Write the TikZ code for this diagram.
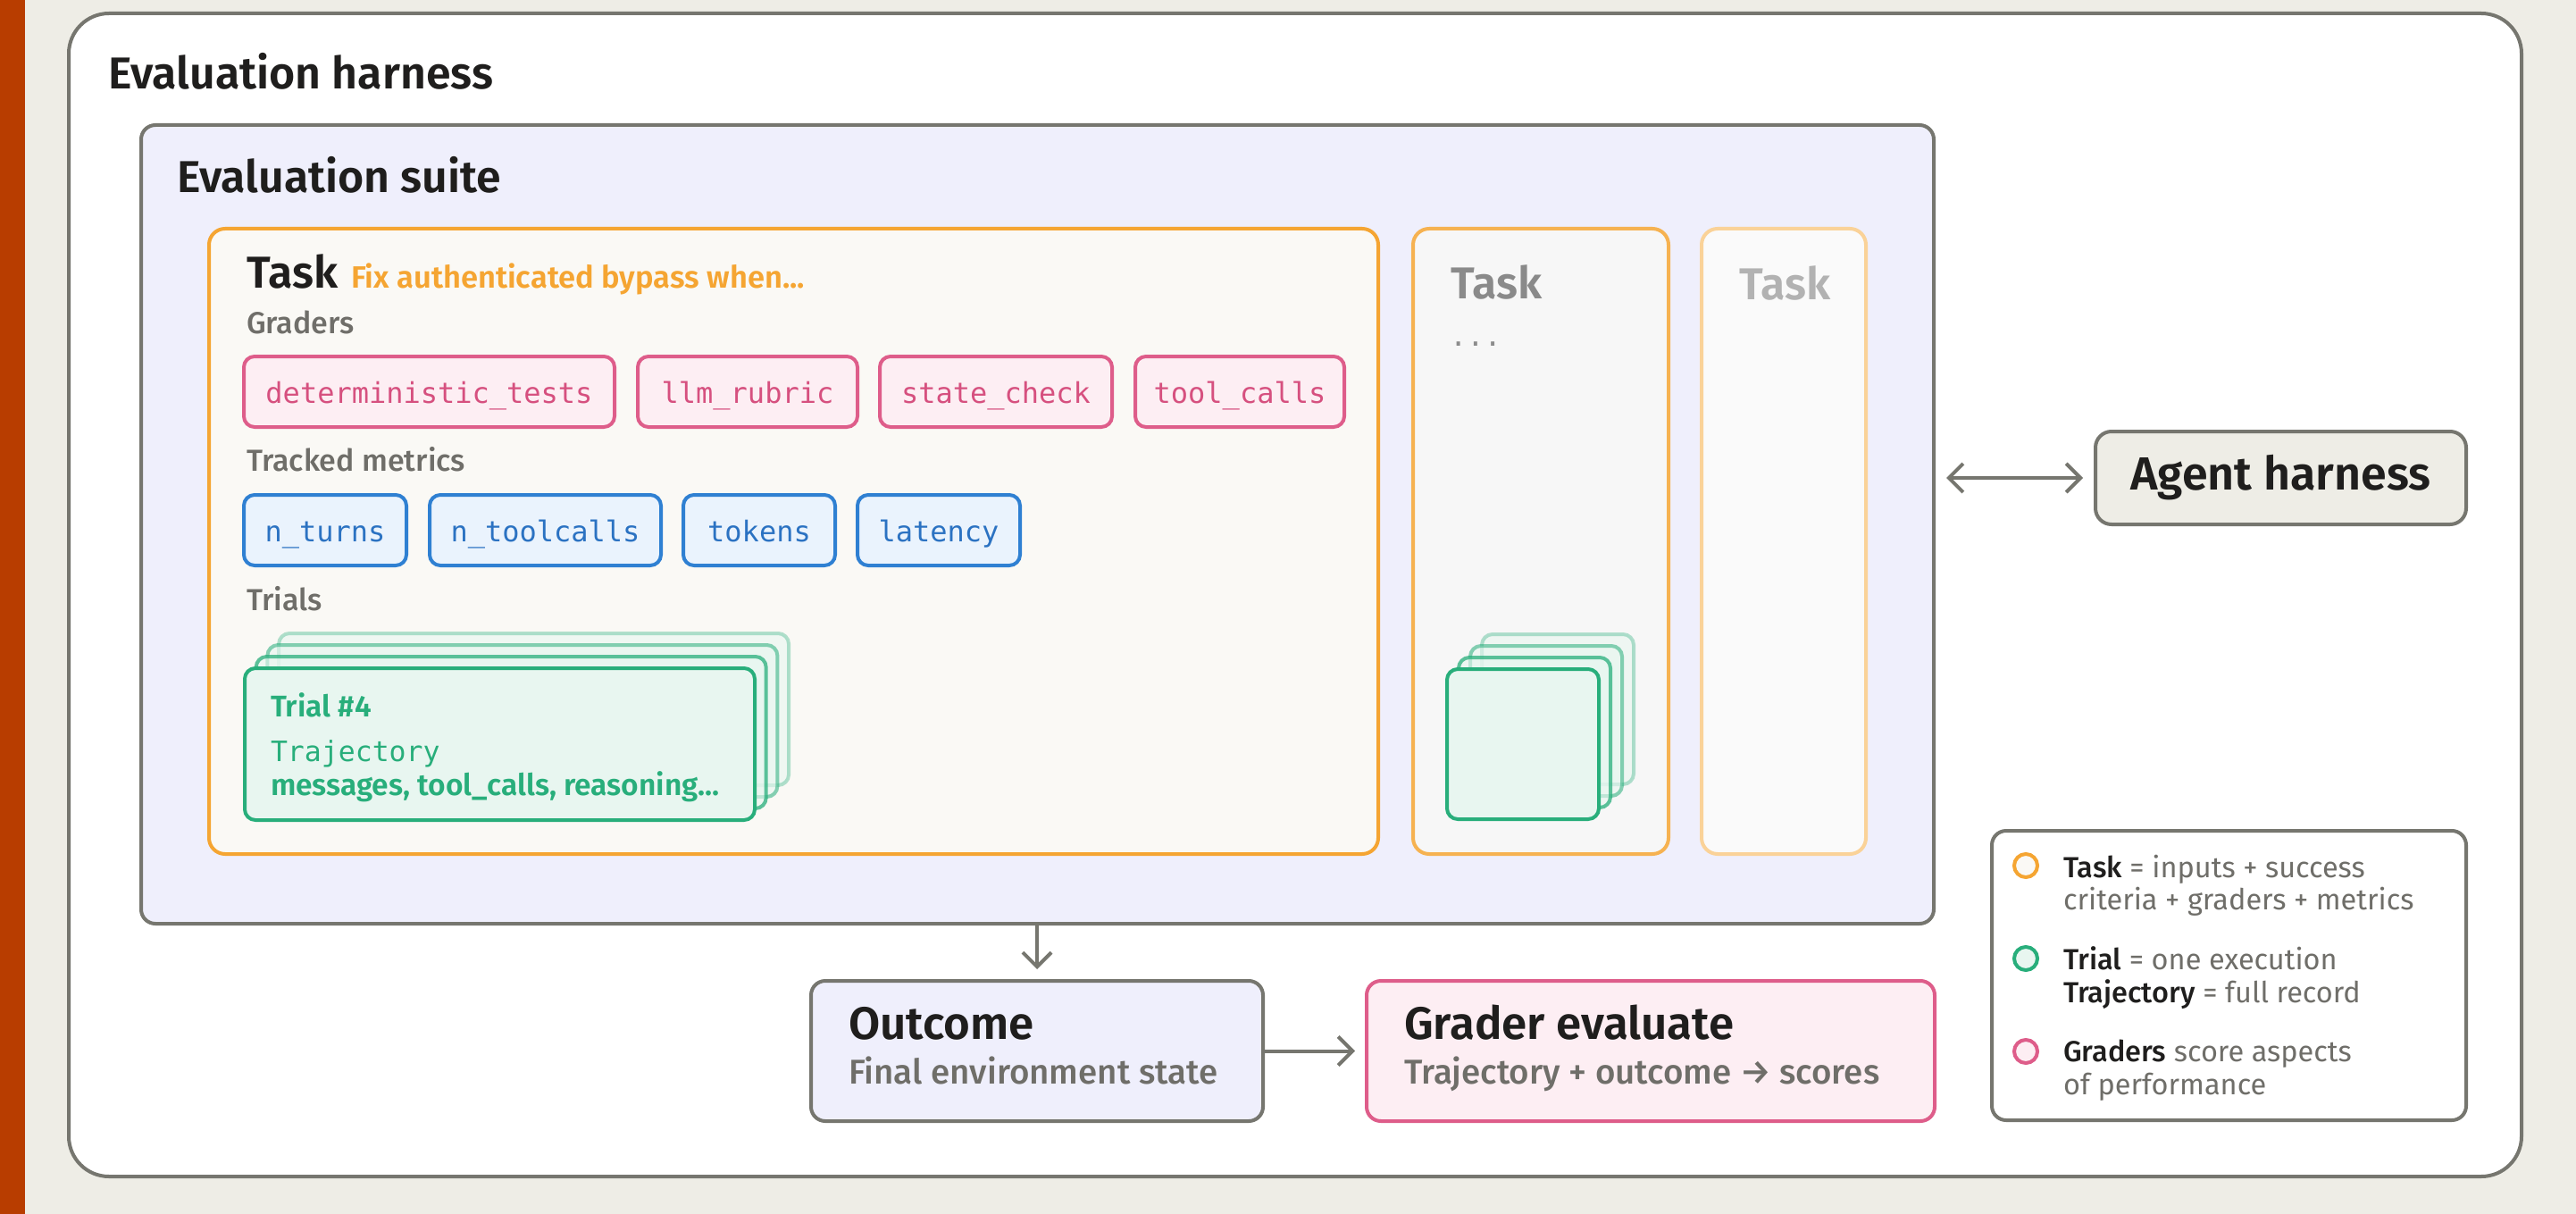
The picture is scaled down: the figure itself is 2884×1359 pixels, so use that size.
\documentclass[tikz,border=0pt]{standalone}
\usepackage{fontspec}
\setmainfont{Fira Sans}
\setmonofont{DejaVu Sans Mono}
\IfFontExistsTF{Fira Sans Medium}
  {\newfontfamily\medfont{Fira Sans Medium}}
  {\newcommand\medfont{\normalfont}}
\IfFontExistsTF{Fira Sans SemiBold}
  {\newfontfamily\semifont{Fira Sans SemiBold}}
  {\newcommand\semifont{\bfseries}}
\usetikzlibrary{arrows.meta}

\definecolor{pagebg}{HTML}{EEEDE6}
\definecolor{rust}{HTML}{B83D00}
\definecolor{frame}{HTML}{76766F}
\definecolor{ink}{HTML}{1F1E1D}
\definecolor{muted}{HTML}{6F6E69}
\definecolor{suitefill}{HTML}{EFEFFC}
\definecolor{taskorange}{HTML}{F5A532}
\definecolor{taskfill}{HTML}{FAF9F5}
\definecolor{gradpink}{HTML}{DE5D8A}
\definecolor{gradfill}{HTML}{FDEEF3}
\definecolor{gradtext}{HTML}{D6507F}
\definecolor{metricblue}{HTML}{2F80D2}
\definecolor{metricfill}{HTML}{EAF3FD}
\definecolor{metrictext}{HTML}{2B72C2}
\definecolor{trialgreen}{HTML}{28AE7B}
\definecolor{trialfill}{HTML}{E8F6F0}

\begin{document}
\begin{tikzpicture}[x=1pt, y=-1pt, line width=4pt,
    panel/.style={anchor=north west, inner sep=0pt, outer sep=0pt, rounded corners=16pt},
    heading/.style={anchor=base west, inner sep=0pt, text=ink, font=\semifont\fontsize{50}{58}\selectfont},
    sublabel/.style={anchor=base west, inner sep=0pt, text=muted, font=\medfont\fontsize{34}{40}\selectfont},
    pill/.style={anchor=north west, inner sep=0pt, outer sep=0pt, rounded corners=12pt,
        minimum height=79pt, text height=32pt, text depth=6pt, font=\ttfamily\fontsize{32}{38}\selectfont},
    grader/.style={pill, draw=gradpink, fill=gradfill, text=gradtext},
    metric/.style={pill, draw=metricblue, fill=metricfill, text=metrictext},
    trialcard/.style={anchor=north west, inner sep=0pt, outer sep=0pt, rounded corners=12pt, draw=trialgreen, fill=trialfill},
    cardtext/.style={anchor=base west, inner sep=0pt, text=trialgreen},
    keydot/.style={circle, inner sep=0pt, minimum size=26pt},
    keytext/.style={anchor=base west, inner sep=0pt, text=muted, font=\fontsize{32.5}{38}\selectfont},
    flow/.style={draw=frame, -{Straight Barb[length=16pt, width=32pt]}},
  ]
  \useasboundingbox (0,0) rectangle (2884,1359);
  \fill[pagebg] (0,0) rectangle (2884,1359);
  \fill[rust] (0,0) rectangle (28,1359);

  % outer harness and suite
  \node[panel, draw=frame, fill=white, rounded corners=45pt, minimum width=2746pt, minimum height=1302pt] (harness) at (77,15) {};
  \node[heading] (harnesstitle) at (119,100) {Evaluation harness};
  \node[panel, draw=frame, fill=suitefill, minimum width=2007pt, minimum height=894pt] (suite) at (158,140) {};
  \node[heading] (suitetitle) at (196,216) {Evaluation suite};

  % first task, full detail
  \node[panel, draw=taskorange, fill=taskfill, rounded corners=18pt, minimum width=1309pt, minimum height=700pt] (task) at (234,256) {};
  \node[heading] (tasktitle) at (274,322) {Task};
  \node[anchor=base west, inner sep=0pt, text=taskorange, font=\semifont\fontsize{34.5}{40}\selectfont] (tasksummary) at (391,322) {Fix authenticated bypass when...};

  \node[sublabel] (graderslabel) at (274,373) {Graders};
  \node[grader, minimum width=415pt] (dettests) at (273,399) {deterministic\_tests};
  \node[grader, minimum width=246pt] (rubric) at (714,399) {llm\_rubric};
  \node[grader, minimum width=260pt] (statecheck) at (985,399) {state\_check};
  \node[grader, minimum width=234pt] (toolcalls) at (1271,399) {tool\_calls};

  \node[sublabel] (metricslabel) at (274,527) {Tracked metrics};
  \node[metric, minimum width=182pt] (nturns) at (273,554) {n\_turns};
  \node[metric, minimum width=259pt] (ntoolcalls) at (481,554) {n\_toolcalls};
  \node[metric, minimum width=170pt] (tokens) at (765,554) {tokens};
  \node[metric, minimum width=182pt] (latency) at (960,554) {latency};

  \node[sublabel] (trialslabel) at (274,683) {Trials};
  \foreach \k/\op in {3/0.35,2/0.55,1/0.75}
    \node[trialcard, draw opacity=\op, fill opacity=0.6, minimum width=571pt, minimum height=170pt]
      (trialback\k) at (274+12.7*\k, 748-13*\k) {};
  \node[trialcard, minimum width=571pt, minimum height=170pt] (trialfront) at (274,748) {};
  \node[cardtext, font=\semifont\fontsize{33.5}{38}\selectfont] (trialname) at (301,802) {Trial \#4};
  \node[cardtext, font=\ttfamily\fontsize{31.5}{36}\selectfont] (trajname) at (301,852) {Trajectory};
  \node[cardtext, font=\semifont\fontsize{33.5}{38}\selectfont] (trajbody) at (301,890) {messages, tool\_calls, reasoning...};

  % second and third tasks, collapsed
  \node[panel, draw=taskorange!85!white, fill=black!3, rounded corners=18pt, minimum width=286pt, minimum height=700pt] (tasktwo) at (1582,256) {};
  \node[heading, text=black!46] (tasktwotitle) at (1622,334) {Task};
  \node[anchor=base west, inner sep=0pt, text=black!45, font=\ttfamily\fontsize{32}{38}\selectfont] (tasktwomore) at (1621,387) {...};
  \foreach \k/\op in {3/0.35,2/0.55,1/0.75}
    \node[trialcard, draw opacity=\op, fill opacity=0.6, minimum width=170pt, minimum height=168pt]
      (smallback\k) at (1620+13*\k, 749-13*\k) {};
  \node[trialcard, minimum width=170pt, minimum height=168pt] (smallfront) at (1620,749) {};

  \node[panel, draw=taskorange!50!white, fill=suitefill!40!black!3, rounded corners=18pt, minimum width=184pt, minimum height=700pt] (taskthree) at (1905,256) {};
  \node[heading, text=black!30] (taskthreetitle) at (1945,335) {Task};

  % agent harness
  \node[panel, draw=frame, fill=pagebg, rounded corners=18pt, minimum width=415pt, minimum height=104pt,
    text=ink, font=\semifont\fontsize{52}{60}\selectfont] (agent) at (2346,483) {Agent harness};
  \draw[draw=frame, {Straight Barb[length=16pt, width=32pt]}-{Straight Barb[length=16pt, width=32pt]},
    shorten <=14pt, shorten >=14pt] (suite.east |- agent.west) -- (agent.west);

  % outcome and grading
  \node[panel, draw=frame, fill=suitefill, minimum width=506pt, minimum height=157pt] (outcome) at (908,1098) {};
  \node[heading, font=\semifont\fontsize{51}{58}\selectfont] (outcometitle) at (948,1163) {Outcome};
  \node[sublabel, font=\medfont\fontsize{38.5}{44}\selectfont] (outcomebody) at (948,1213) {Final environment state};
  \node[panel, draw=gradpink, fill=gradfill, minimum width=636pt, minimum height=157pt] (grade) at (1530,1098) {};
  \node[heading, font=\semifont\fontsize{51}{58}\selectfont] (gradetitle) at (1570,1163) {Grader evaluate};
  \node[sublabel, font=\medfont\fontsize{38.5}{44}\selectfont] (gradebody) at (1570,1213) {Trajectory + outcome → scores};

  \draw[flow, shorten >=13pt] (suite.south -| outcome.north) -- (outcome.north);
  \draw[flow, shorten >=13pt] (outcome.east) -- (grade.west);

  % key
  \node[panel, draw=frame, fill=white, minimum width=531pt, minimum height=324pt] (key) at (2230,930) {};
  \node[keydot, draw=taskorange, fill=taskfill] (keytask) at (2268,969) {};
  \node[keydot, draw=trialgreen, fill=trialfill] (keytrial) at (2268,1073) {};
  \node[keydot, draw=gradpink, fill=gradfill] (keygrader) at (2268,1177) {};
  \node[keytext] (keytaskA) at (2308,982) {{\medfont\color{ink}Task} = inputs + success};
  \node[keytext] (keytaskB) at (2308,1018) {criteria + graders + metrics};
  \node[keytext] (keytrialA) at (2308,1085) {{\medfont\color{ink}Trial} = one execution};
  \node[keytext] (keytrialB) at (2308,1122) {{\medfont\color{ink}Trajectory} = full record};
  \node[keytext] (keygraderA) at (2308,1188) {{\medfont\color{ink}Graders} score aspects};
  \node[keytext] (keygraderB) at (2308,1225) {of performance};
\end{tikzpicture}
\end{document}
